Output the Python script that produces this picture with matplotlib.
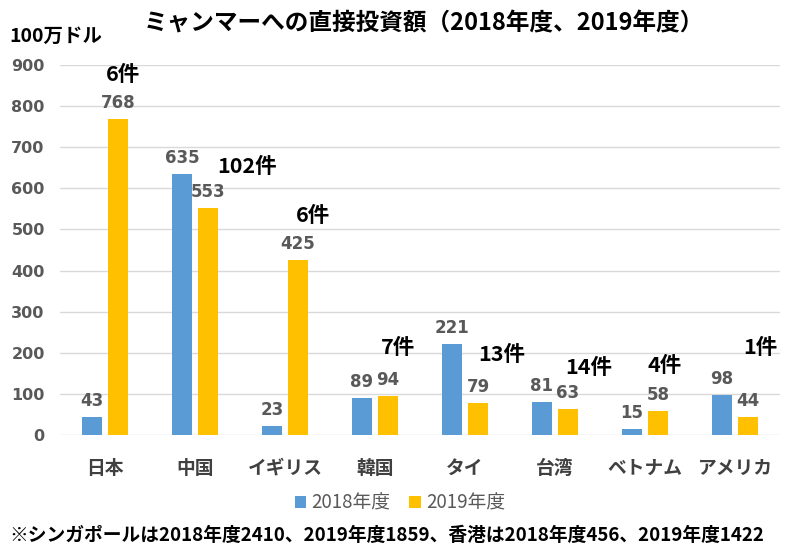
import numpy as np
import matplotlib
matplotlib.use("Agg")
import matplotlib.pyplot as plt

plt.rcParams['font.family'] = ['Noto Sans CJK JP', 'DejaVu Sans']

countries = ["日本", "中国", "イギリス", "韓国", "タイ", "台湾", "ベトナム", "アメリカ"]
fy2018 = [43, 635, 23, 89, 221, 81, 15, 98]
fy2019 = [768, 553, 425, 94, 79, 63, 58, 44]
cases = ["6件", "102件", "6件", "7件", "13件", "14件", "4件", "1件"]

# where the case-count labels sit (x offset from category centre, y in data units)
case_dx = [0.2, 0.58, 0.31, 0.26, 0.41, 0.37, 0.22, 0.28]
case_y = [876, 652, 535, 212, 195, 163, 170, 212]

blue = "#5B9BD5"
yellow = "#FFC000"
gray = "#595959"

fig = plt.figure(figsize=(8, 5.54), dpi=100)
ax = fig.add_axes([0.075, 0.2148, 0.90, 0.668])

x = np.arange(len(countries))
w = 0.22
off = 0.145
b1 = ax.bar(x - off, fy2018, w, color=blue, label="2018年度", zorder=3)
b2 = ax.bar(x + off, fy2019, w, color=yellow, label="2019年度", zorder=3)

for bars in (b1, b2):
    ax.bar_label(bars, padding=5, color=gray, fontsize=12, fontweight="bold",
                 family=["DejaVu Sans"])

for i, c in enumerate(cases):
    ax.text(x[i] + case_dx[i], case_y[i], c, ha="center", va="center",
            fontsize=15.5, fontweight="bold", color="black")

ax.set_xlim(-0.5, len(countries) - 0.5)
ax.set_ylim(0, 900)
ax.set_yticks(range(0, 901, 100))
ax.yaxis.grid(True, color="#D9D9D9", linewidth=1, zorder=0)
ax.set_axisbelow(True)
for s in ax.spines.values():
    s.set_visible(False)
ax.tick_params(length=0)
ax.tick_params(axis="y", labelsize=11.5, labelcolor=gray, pad=11)
ax.tick_params(axis="x", labelsize=13.5, labelcolor="#404040", pad=17)
for t in ax.get_yticklabels():
    t.set_fontweight("bold")
    t.set_family(["DejaVu Sans"])
ax.set_xticks(x)
ax.set_xticklabels(countries)
for t in ax.get_xticklabels():
    t.set_fontweight("bold")

fig.text(0.53, 0.958, "ミャンマーへの直接投資額（2018年度、2019年度）", ha="center",
         va="center", fontsize=17, fontweight="bold")
fig.text(0.012, 0.935, "100万ドル", ha="left", va="center", fontsize=14,
         fontweight="bold")

fig.legend(handles=[b1, b2], loc="center", bbox_to_anchor=(0.5, 0.092), ncol=2,
           frameon=False, fontsize=13.5, handlelength=0.6, handleheight=0.6,
           handletextpad=0.3, columnspacing=1.0, labelcolor=gray)

fig.text(0.012, 0.034, "※シンガポールは2018年度2410、2019年度1859、香港は2018年度456、2019年度1422",
         ha="left", va="center", fontsize=13.5, fontweight="bold")

fig.savefig("out.png", dpi=100)
